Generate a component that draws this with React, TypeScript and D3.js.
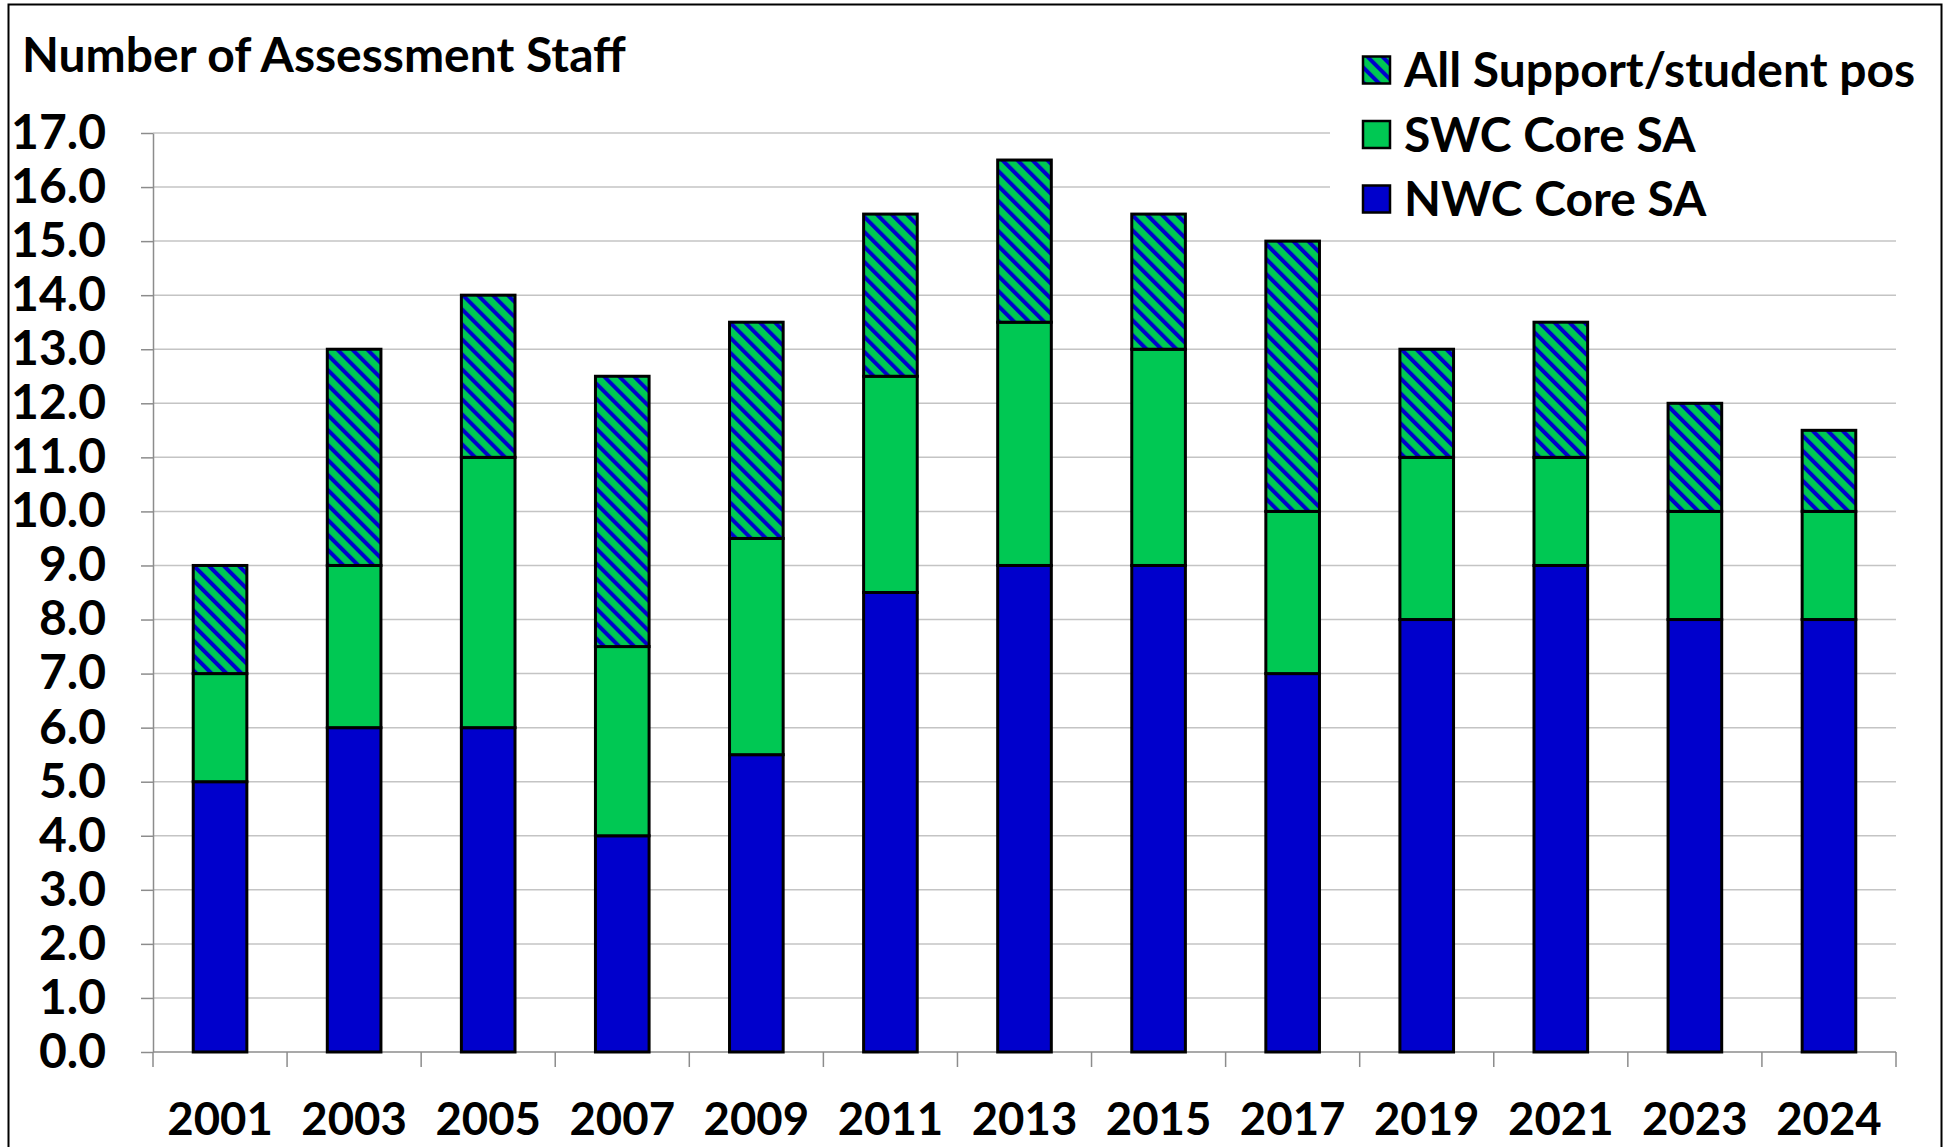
import React, { useEffect, useRef } from 'react';
import * as d3 from 'd3';

// data
const years = ['2001', '2003', '2005', '2007', '2009', '2011', '2013', '2015', '2017', '2019', '2021', '2023', '2024'];
const nwcCore = [5, 6, 6, 4, 5.5, 8.5, 9, 9, 7, 8, 9, 8, 8];
const swcCore = [2, 3, 5, 3.5, 4, 4, 4.5, 4, 3, 3, 2, 2, 2];
const support = [2, 4, 3, 5, 4, 3, 3, 2.5, 5, 2, 2.5, 2, 1.5];
const yTicks = d3.range(0, 18, 1);
const seriesNames = ['NWC Core SA', 'SWC Core SA', 'All Support/student pos'];

const BLUE = '#0000CC';
const GREEN = '#00C853';
const FONT = 'Lato, "Open Sans", sans-serif';

export default function App() {
  const ref = useRef<SVGSVGElement>(null);

  useEffect(() => {
    const width = 1952;
    const height = 1147;
    const plot = { left: 153, right: 1896, top: 133, bottom: 1052 };

    const svg = d3.select(ref.current);
    svg.selectAll('*').remove();

    const rows = years.map((year, i) => ({
      year,
      nwc: nwcCore[i],
      swc: swcCore[i],
      sup: support[i],
    }));

    const stack = d3.stack<any>().keys(['nwc', 'swc', 'sup'])(rows);

    const x = d3
      .scaleBand<string>()
      .domain(years)
      .range([plot.left, plot.right])
      .paddingInner(0.6)
      .paddingOuter(0.3);

    const y = d3.scaleLinear().domain([0, 17]).range([plot.bottom, plot.top]);

    // hatch pattern for support positions
    const P = 10.6;
    const defs = svg.append('defs');
    const pat = defs
      .append('pattern')
      .attr('id', 'hatch')
      .attr('patternUnits', 'userSpaceOnUse')
      .attr('width', P)
      .attr('height', P)
      .attr('patternTransform', 'rotate(-45)');
    pat.append('rect').attr('width', P).attr('height', P).attr('fill', GREEN);
    pat.append('rect').attr('width', 4).attr('height', P).attr('fill', BLUE);

    svg.append('rect').attr('width', width).attr('height', height).attr('fill', '#fff');

    // outer frame
    svg
      .append('rect')
      .attr('x', 8.5)
      .attr('y', 4.5)
      .attr('width', 1933)
      .attr('height', 1160)
      .attr('fill', 'none')
      .attr('stroke', '#000')
      .attr('stroke-width', 2);

    // title
    svg
      .append('text')
      .attr('x', 22)
      .attr('y', 72)
      .attr('font-family', FONT)
      .attr('font-weight', 700)
      .attr('font-size', 48)
      .text('Number of Assessment Staff');

    // gridlines
    svg
      .append('g')
      .selectAll('line')
      .data(yTicks.filter((t) => t > 0))
      .join('line')
      .attr('x1', plot.left)
      .attr('x2', plot.right)
      .attr('y1', (d) => y(d))
      .attr('y2', (d) => y(d))
      .attr('stroke', '#c4c4c4')
      .attr('stroke-width', 1.5);

    // y axis
    const yAxis = svg
      .append('g')
      .attr('transform', `translate(${plot.left},0)`)
      .call(d3.axisLeft(y).tickValues(yTicks).tickFormat(d3.format('.1f')).tickSize(12).tickSizeOuter(0));
    yAxis.select('.domain').attr('stroke', '#8c8c8c').attr('stroke-width', 1.5);
    yAxis.selectAll('.tick line').attr('stroke', '#8c8c8c').attr('stroke-width', 1.5);
    yAxis
      .selectAll('.tick text')
      .attr('x', -47)
      .attr('font-family', FONT)
      .attr('font-weight', 700)
      .attr('font-size', 48)
      .attr('fill', '#000');

    // x axis line and boundary ticks
    svg
      .append('line')
      .attr('x1', plot.left)
      .attr('x2', plot.right)
      .attr('y1', plot.bottom)
      .attr('y2', plot.bottom)
      .attr('stroke', '#8c8c8c')
      .attr('stroke-width', 1.5);
    const step = x.step();
    svg
      .append('g')
      .selectAll('line')
      .data(d3.range(years.length + 1))
      .join('line')
      .attr('x1', (i) => plot.left + i * step)
      .attr('x2', (i) => plot.left + i * step)
      .attr('y1', plot.bottom)
      .attr('y2', plot.bottom + 15)
      .attr('stroke', '#8c8c8c')
      .attr('stroke-width', 1.5);

    svg
      .append('g')
      .selectAll('text')
      .data(years)
      .join('text')
      .attr('x', (d) => x(d)! + x.bandwidth() / 2)
      .attr('y', 1135)
      .attr('text-anchor', 'middle')
      .attr('font-family', FONT)
      .attr('font-weight', 700)
      .attr('font-size', 45.5)
      .text((d) => d);

    // bars
    const fills = [BLUE, GREEN, 'url(#hatch)'];
    svg
      .append('g')
      .selectAll('g')
      .data(stack)
      .join('g')
      .attr('fill', (_, i) => fills[i])
      .selectAll('rect')
      .data((s) => s)
      .join('rect')
      .attr('x', (d) => x(d.data.year)!)
      .attr('width', x.bandwidth())
      .attr('y', (d) => y(d[1]))
      .attr('height', (d) => y(d[0]) - y(d[1]))
      .attr('stroke', '#000')
      .attr('stroke-width', 3);

    // legend
    const legend = svg.append('g');
    legend
      .append('rect')
      .attr('x', 1330)
      .attr('y', 28)
      .attr('width', 608)
      .attr('height', 196)
      .attr('fill', '#fff');
    const legendItems = [
      { name: seriesNames[2], fill: 'url(#hatch)' },
      { name: seriesNames[1], fill: GREEN },
      { name: seriesNames[0], fill: BLUE },
    ];
    const item = legend
      .selectAll('g.item')
      .data(legendItems)
      .join('g')
      .attr('class', 'item')
      .attr('transform', (_, i) => `translate(1363,${70 + i * 64.5})`);
    item
      .append('rect')
      .attr('x', 0)
      .attr('y', -13.5)
      .attr('width', 27)
      .attr('height', 27)
      .attr('fill', (d) => d.fill)
      .attr('stroke', '#000')
      .attr('stroke-width', 2.5);
    item
      .append('text')
      .attr('x', 41)
      .attr('y', 0)
      .attr('dy', '0.36em')
      .attr('font-family', FONT)
      .attr('font-weight', 700)
      .attr('font-size', 48)
      .text((d) => d.name);
  }, []);

  return (
    <svg
      ref={ref}
      width={1952}
      height={1147}
      style={{ position: 'absolute', left: 0, top: 0, display: 'block' }}
    />
  );
}
